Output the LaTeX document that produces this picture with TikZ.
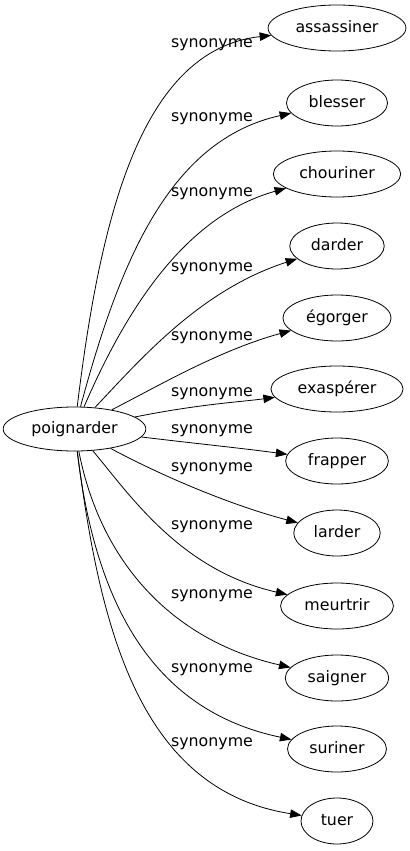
\documentclass[tikz,border=0pt]{standalone}
\usepackage{fontspec}
\setmainfont{DejaVu Sans}
\usetikzlibrary{arrows.meta, shapes.geometric}

\begin{document}
\begin{tikzpicture}[x=1bp, y=-1bp,
    word/.style={ellipse, draw, line width=0.8bp, inner xsep=7.3bp, inner ysep=0pt,
      minimum width=72bp, minimum height=46bp, text height=12bp, text depth=3bp,
      font=\fontsize{15.8bp}{18bp}\selectfont},
    syn/.style={inner sep=0pt, text height=12bp, text depth=3bp,
      font=\fontsize{15.8bp}{18bp}\selectfont},
    link/.style={-{Triangle[length=11.5bp, width=8.5bp]}, line width=0.8bp}]
  \useasboundingbox (0,0) rectangle (409,851);

  \node[word, minimum height=44bp] (p) at (74.5,429) {poignarder};

  \foreach \n/\w/\y in {a/assassiner/28, b/blesser/103, c/chouriner/174, d/darder/246,
      e/égorger/318, f/exaspérer/389, g/frapper/461, h/larder/533, i/meurtrir/606,
      j/saigner/678, k/suriner/749, l/tuer/821}
    \node[word] (\n) at (337,\y) {\w};

  \foreach \n/\y in {1/43, 2/117, 3/192, 4/267, 5/336, 6/392, 7/429, 8/467, 9/525,
      10/594, 11/668, 12/742}
    \node[syn] (s\n) at (212,\y) {synonyme};

  \draw[link] (p) .. controls (100,220) and (140,50) .. (a);
  \draw[link] (p) .. controls (120,260) and (170,140) .. (b);
  \draw[link] (p) .. controls (130,300) and (190,215) .. (c);
  \draw[link] (p) .. controls (140,360) and (200,290) .. (d);
  \draw[link] (p) .. controls (160,385) and (220,350) .. (e);
  \draw[link] (p) .. controls (200,404) and (240,402) .. (f);
  \draw[link] (p) .. controls (200,444) and (240,448) .. (g);
  \draw[link] (p) .. controls (160,475) and (230,505) .. (h);
  \draw[link] (p) .. controls (130,495) and (180,570) .. (i);
  \draw[link] (p) .. controls (100,560) and (170,640) .. (j);
  \draw[link] (p) .. controls (95,600) and (150,710) .. (k);
  \draw[link] (p) .. controls (100,630) and (140,790) .. (l);
\end{tikzpicture}
\end{document}
